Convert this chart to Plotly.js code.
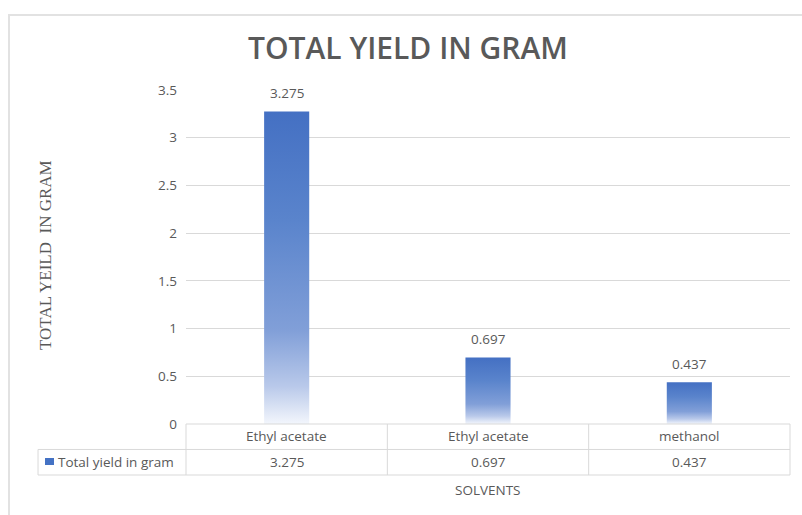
<!DOCTYPE html>
<html>
<head>
<meta charset="utf-8">
<script src="https://cdn.plot.ly/plotly-3.0.1.min.js"></script>
<style>
  html, body { margin: 0; padding: 0; background: #ffffff; }
  #wrap { position: relative; width: 802px; height: 515px; overflow: hidden; background: #ffffff; }
  #frame { position: absolute; left: 8px; top: 14px; width: 900px; height: 600px;
           border-left: 2px solid #e2e2e2; border-top: 2px solid #e2e2e2; }
  #chart { position: absolute; left: 0; top: 0; width: 802px; height: 515px; }
</style>
</head>
<body>
<div id="wrap"><div id="frame"></div><div id="chart"></div></div>
<script>
// Solvent extraction yields (grams)
const solvents = ['Ethyl acetate', 'Ethyl acetate', 'methanol'];
const yields = [3.275, 0.697, 0.437];
const seriesName = 'Total yield in gram';
const yTicks = [0, 0.5, 1, 1.5, 2, 2.5, 3, 3.5];
const yTickText = ['0', '0.5', '1', '1.5', '2', '2.5', '3', '3.5'];

const idx = solvents.map((_, i) => i);
const grey = '#595959';
const lineGrey = '#d9d9d9';
const txtFont = { family: 'Open Sans, Noto Sans, sans-serif', size: 13.5, color: grey };

const trace = {
  type: 'bar',
  x: idx,
  y: yields,
  name: seriesName,
  marker: { color: '#4472C4', line: { width: 0 } },
  hoverinfo: 'skip',
  showlegend: false
};

// Data table under the plot: paper-space rows
const rowTop = 0, row1Bottom = -0.0763, row2Bottom = -0.1527;
const shapes = [];
const hline = (x0, x1, y) => shapes.push({ type: 'line', xref: 'paper', yref: 'paper',
  x0: x0, x1: x1, y0: y, y1: y, line: { color: lineGrey, width: 1 } });
const vline = (x, y0, y1) => shapes.push({ type: 'line', xref: 'paper', yref: 'paper',
  x0: x, x1: x, y0: y0, y1: y1, line: { color: lineGrey, width: 1 } });

hline(0, 1, rowTop);
hline(-0.245, 1, row1Bottom);
hline(-0.245, 1, row2Bottom);
vline(-0.245, row1Bottom, row2Bottom);
for (let k = 0; k <= solvents.length; k++) vline(k / solvents.length, rowTop, row2Bottom);
// series key swatch
shapes.push({ type: 'rect', xref: 'paper', yref: 'paper',
  x0: -0.2334, x1: -0.2185, y0: -0.1018, y1: -0.1228,
  fillcolor: '#4472C4', line: { width: 0 } });

const annotations = [];
idx.forEach(i => {
  // category row
  annotations.push({ x: i, xref: 'x', y: -0.0359, yref: 'paper', text: solvents[i],
    showarrow: false, xanchor: 'center', yanchor: 'middle', font: txtFont });
  // value row
  annotations.push({ x: i, xref: 'x', y: -0.1138, yref: 'paper', text: String(yields[i]),
    showarrow: false, xanchor: 'center', yanchor: 'middle', font: txtFont });
  // data label above bar
  annotations.push({ x: i, xref: 'x', y: yields[i], yref: 'y', text: String(yields[i]),
    showarrow: false, xanchor: 'center', yanchor: 'middle', yshift: 18, font: txtFont });
});
annotations.push({ x: -0.2152, xref: 'paper', y: -0.1138, yref: 'paper', text: seriesName,
  showarrow: false, xanchor: 'left', yanchor: 'middle', font: txtFont });
annotations.push({ x: 0.5, xref: 'paper', y: -0.1976, yref: 'paper', text: 'SOLVENTS',
  showarrow: false, xanchor: 'center', yanchor: 'middle', font: txtFont });
annotations.push({ x: -0.2318, xref: 'paper', y: 0.506, yref: 'paper', text: 'TOTAL YEILD&nbsp; IN GRAM',
  textangle: -90, showarrow: false, xanchor: 'center', yanchor: 'middle',
  font: { family: 'Liberation Serif, DejaVu Serif, serif', size: 17, color: grey } });

const layout = {
  width: 802, height: 515,
  margin: { l: 186, r: 12, t: 90, b: 91, pad: 0 },
  paper_bgcolor: 'rgba(0,0,0,0)',
  plot_bgcolor: 'rgba(0,0,0,0)',
  title: {
    text: 'TOTAL YIELD IN GRAM',
    xref: 'container', x: 0.5087, xanchor: 'center',
    yref: 'container', y: 0.905, yanchor: 'middle',
    font: { family: 'Open Sans, Noto Sans, sans-serif', size: 30, weight: 600, color: grey }
  },
  bargap: 0.776,
  xaxis: {
    range: [-0.5, solvents.length - 0.5],
    showticklabels: false, showgrid: false, zeroline: false, showline: false, ticks: '',
    fixedrange: true
  },
  yaxis: {
    range: [0, 3.5],
    tickvals: yTicks, ticktext: yTickText,
    showgrid: true, gridcolor: lineGrey, gridwidth: 1,
    zeroline: false, showline: false, ticks: '',
    ticklabelstandoff: 8,
    tickfont: txtFont,
    fixedrange: true
  },
  shapes: shapes,
  annotations: annotations
};

Plotly.newPlot('chart', [trace], layout, { staticPlot: true, displayModeBar: false }).then(gd => {
  // vertical fade on each bar, dark blue at the top to near white at the base
  const svg = gd.querySelector('.main-svg');
  const ns = 'http://www.w3.org/2000/svg';
  let defs = svg.querySelector('defs');
  if (!defs) { defs = document.createElementNS(ns, 'defs'); svg.insertBefore(defs, svg.firstChild); }
  const grad = document.createElementNS(ns, 'linearGradient');
  grad.setAttribute('id', 'barFade');
  grad.setAttribute('x1', '0'); grad.setAttribute('y1', '0');
  grad.setAttribute('x2', '0'); grad.setAttribute('y2', '1');
  [[0, '#4470c3'], [0.35, '#5a84cc'], [0.7, '#819fd8'], [0.88, '#b9c9ea'], [1, '#f3f6fc']].forEach(([o, c]) => {
    const s = document.createElementNS(ns, 'stop');
    s.setAttribute('offset', o);
    s.setAttribute('stop-color', c);
    grad.appendChild(s);
  });
  defs.appendChild(grad);
  gd.querySelectorAll('.barlayer .point path').forEach(p => { p.style.fill = 'url(#barFade)'; });
});
</script>
</body>
</html>
